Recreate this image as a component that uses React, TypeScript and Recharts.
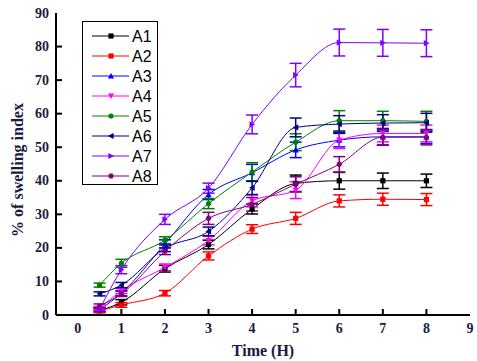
import React from 'react'
import { LineChart, Line, XAxis, YAxis, ErrorBar, Label } from 'recharts'

const times = [0.5, 1, 2, 3, 4, 5, 6, 7, 8]
const xTicks = [0, 1, 2, 3, 4, 5, 6, 7, 8, 9]
const yTicks = [0, 10, 20, 30, 40, 50, 60, 70, 80, 90]

const A1 = [1.3, 3.8, 13.8, 21.0, 31.6, 39.2, 40.0, 40.0, 40.0]
const A2 = [1.2, 3.0, 6.5, 17.6, 25.6, 28.8, 34.0, 34.5, 34.4]
const A3 = [1.6, 6.5, 21.2, 35.9, 42.4, 49.2, 52.1, 53.1, 53.1]
const A4 = [2.0, 7.2, 14.2, 22.2, 34.0, 37.2, 52.1, 54.1, 54.1]
const A5 = [8.9, 15.4, 22.3, 33.2, 42.6, 51.5, 57.9, 57.9, 57.7]
const A6 = [6.3, 8.9, 19.9, 24.9, 37.9, 55.9, 56.9, 57.2, 57.3]
const A7 = [1.7, 13.5, 28.5, 37.8, 56.8, 71.5, 81.2, 81.1, 81.0]
const A8 = [2.7, 6.3, 19.0, 28.8, 33.0, 39.0, 44.9, 53.0, 53.0]

const A1err = [0.5, 0.8, 1.0, 1.3, 1.5, 2.5, 2.5, 2.3, 2.0]
const A2err = [0.5, 0.7, 0.8, 1.2, 1.3, 1.8, 1.8, 1.8, 1.8]
const A3err = [0.5, 0.8, 1.2, 1.5, 2.5, 2.3, 2.0, 2.5, 2.0]
const A4err = [0.5, 0.8, 1.0, 1.3, 1.8, 2.5, 2.5, 2.5, 2.5]
const A5err = [0.6, 1.2, 1.0, 1.5, 2.8, 2.5, 3.0, 2.8, 3.0]
const A6err = [0.6, 0.8, 1.0, 1.3, 2.0, 2.8, 2.5, 2.5, 2.8]
const A7err = [0.5, 1.2, 1.5, 1.5, 2.8, 3.5, 4.0, 4.0, 4.0]
const A8err = [0.6, 0.8, 1.0, 1.8, 2.0, 2.2, 2.3, 2.3, 2.3]

type Shape = 'square' | 'up' | 'down' | 'circle' | 'left' | 'right' | 'hex'

const SERIES: { key: string; values: number[]; err: number[]; color: string; shape: Shape }[] = [
  { key: 'A1', values: A1, err: A1err, color: '#000000', shape: 'square' },
  { key: 'A2', values: A2, err: A2err, color: '#ff0000', shape: 'square' },
  { key: 'A3', values: A3, err: A3err, color: '#0000ff', shape: 'up' },
  { key: 'A4', values: A4, err: A4err, color: '#ff00ff', shape: 'down' },
  { key: 'A5', values: A5, err: A5err, color: '#008000', shape: 'circle' },
  { key: 'A6', values: A6, err: A6err, color: '#000080', shape: 'left' },
  { key: 'A7', values: A7, err: A7err, color: '#8000ff', shape: 'right' },
  { key: 'A8', values: A8, err: A8err, color: '#800080', shape: 'hex' },
]

const data = times.map((t, i) => {
  const row: Record<string, number> = { t }
  SERIES.forEach(s => {
    row[s.key] = s.values[i]
    row[s.key + 'e'] = s.err[i]
  })
  return row
})

const TEXT = '#1a1a40'
const SERIF = '"Liberation Serif", "Times New Roman", serif'

function Marker({ cx, cy, color, shape }: { cx: number; cy: number; color: string; shape: Shape }) {
  const r = 2.6
  switch (shape) {
    case 'square':
      return <rect x={cx - r} y={cy - r} width={r * 2} height={r * 2} fill={color} />
    case 'up':
      return <polygon points={`${cx},${cy - r - 0.5} ${cx - r - 0.5},${cy + r} ${cx + r + 0.5},${cy + r}`} fill={color} />
    case 'down':
      return <polygon points={`${cx},${cy + r + 0.5} ${cx - r - 0.5},${cy - r} ${cx + r + 0.5},${cy - r}`} fill={color} />
    case 'left':
      return <polygon points={`${cx - r - 0.5},${cy} ${cx + r},${cy - r - 0.5} ${cx + r},${cy + r + 0.5}`} fill={color} />
    case 'right':
      return <polygon points={`${cx + r + 0.5},${cy} ${cx - r},${cy - r - 0.5} ${cx - r},${cy + r + 0.5}`} fill={color} />
    case 'hex': {
      const pts = [0, 1, 2, 3, 4, 5].map(k => {
        const a = (Math.PI / 3) * k
        return `${cx + (r + 0.3) * Math.cos(a)},${cy + (r + 0.3) * Math.sin(a)}`
      })
      return <polygon points={pts.join(' ')} fill={color} />
    }
    default:
      return <circle cx={cx} cy={cy} r={r} fill={color} />
  }
}

function YTick({ x, y, payload }: any) {
  const v = payload.value
  return (
    <g>
      {v !== 0 && v !== 90 && <line x1={x + 8} x2={x + 14} y1={y} y2={y} stroke="#000" strokeWidth={2} />}
      <text x={x + 1} y={y} textAnchor="end" dominantBaseline="central" fill={TEXT}
        style={{ fontFamily: SERIF, fontWeight: 700, fontSize: 14 }}>{v}</text>
    </g>
  )
}

function XTick({ x, y, payload }: any) {
  const v = payload.value
  return (
    <g>
      {v !== 0 && v !== 9 && <line x1={x} x2={x} y1={y - 8} y2={y - 14} stroke="#000" strokeWidth={2} />}
      <text x={x} y={y + 5} textAnchor="middle" dominantBaseline="central" fill={TEXT}
        style={{ fontFamily: SERIF, fontWeight: 700, fontSize: 14 }}>{v}</text>
    </g>
  )
}

function LegendBox() {
  return (
    <div style={{
      position: 'absolute', left: 82, top: 21, width: 74, height: 162,
      border: '1px solid #000', background: '#fff',
    }}>
      <svg width={74} height={162}>
        {SERIES.map((s, i) => {
          const y = 14 + i * 20
          return (
            <g key={s.key}>
              <line x1={9} x2={46} y1={y} y2={y} stroke={s.color} strokeWidth={1} />
              <Marker cx={28} cy={y} color={s.color} shape={s.shape} />
              <text x={49} y={y} dominantBaseline="central" fill="#000"
                style={{ fontFamily: '"Liberation Sans", Arial, sans-serif', fontSize: 16 }}>{s.key}</text>
            </g>
          )
        })}
      </svg>
    </div>
  )
}

export default function App() {
  return (
    <div style={{ position: 'absolute', left: 0, top: 0, width: 477, height: 361, background: '#fff' }}>
      <LineChart width={477} height={361} data={data} margin={{ top: 13, right: 7, left: 0, bottom: 0 }}>
        <XAxis dataKey="t" type="number" domain={[-0.5, 9]} ticks={xTicks} height={46}
          axisLine={{ stroke: '#000', strokeWidth: 2 }} tickLine={false} tick={<XTick />} interval={0}>
          <Label value="Time (H)" position="insideBottom" offset={5} fill={TEXT}
            style={{ fontFamily: SERIF, fontWeight: 700, fontSize: 16 }} />
        </XAxis>
        <XAxis xAxisId="top" orientation="top" type="number" domain={[-0.5, 9]} height={0}
          axisLine={{ stroke: '#000', strokeWidth: 2 }} tickLine={false} tick={false} />
        <YAxis type="number" domain={[0, 90]} ticks={yTicks} width={56} interval={0}
          axisLine={{ stroke: '#000', strokeWidth: 2 }} tickLine={false} tick={<YTick />}>
          <Label value="% of swelling index" angle={-90} position="center" dx={-11} dy={6} fill={TEXT}
            style={{ fontFamily: SERIF, fontWeight: 700, fontSize: 16 }} />
        </YAxis>
        <YAxis yAxisId="right" orientation="right" width={0} domain={[0, 90]}
          axisLine={{ stroke: '#000', strokeWidth: 2 }} tickLine={false} tick={false} />
        {SERIES.map(s => (
          <Line key={s.key} dataKey={s.key} type="monotone" stroke={s.color} strokeWidth={1}
            isAnimationActive={false}
            dot={(p: any) => <Marker key={`${s.key}-${p.index}`} cx={p.cx} cy={p.cy} color={s.color} shape={s.shape} />}
            activeDot={false}>
            <ErrorBar dataKey={s.key + 'e'} direction="y" width={6} stroke={s.color} strokeWidth={1.5}
              isAnimationActive={false} />
          </Line>
        ))}
      </LineChart>
      <LegendBox />
    </div>
  )
}
